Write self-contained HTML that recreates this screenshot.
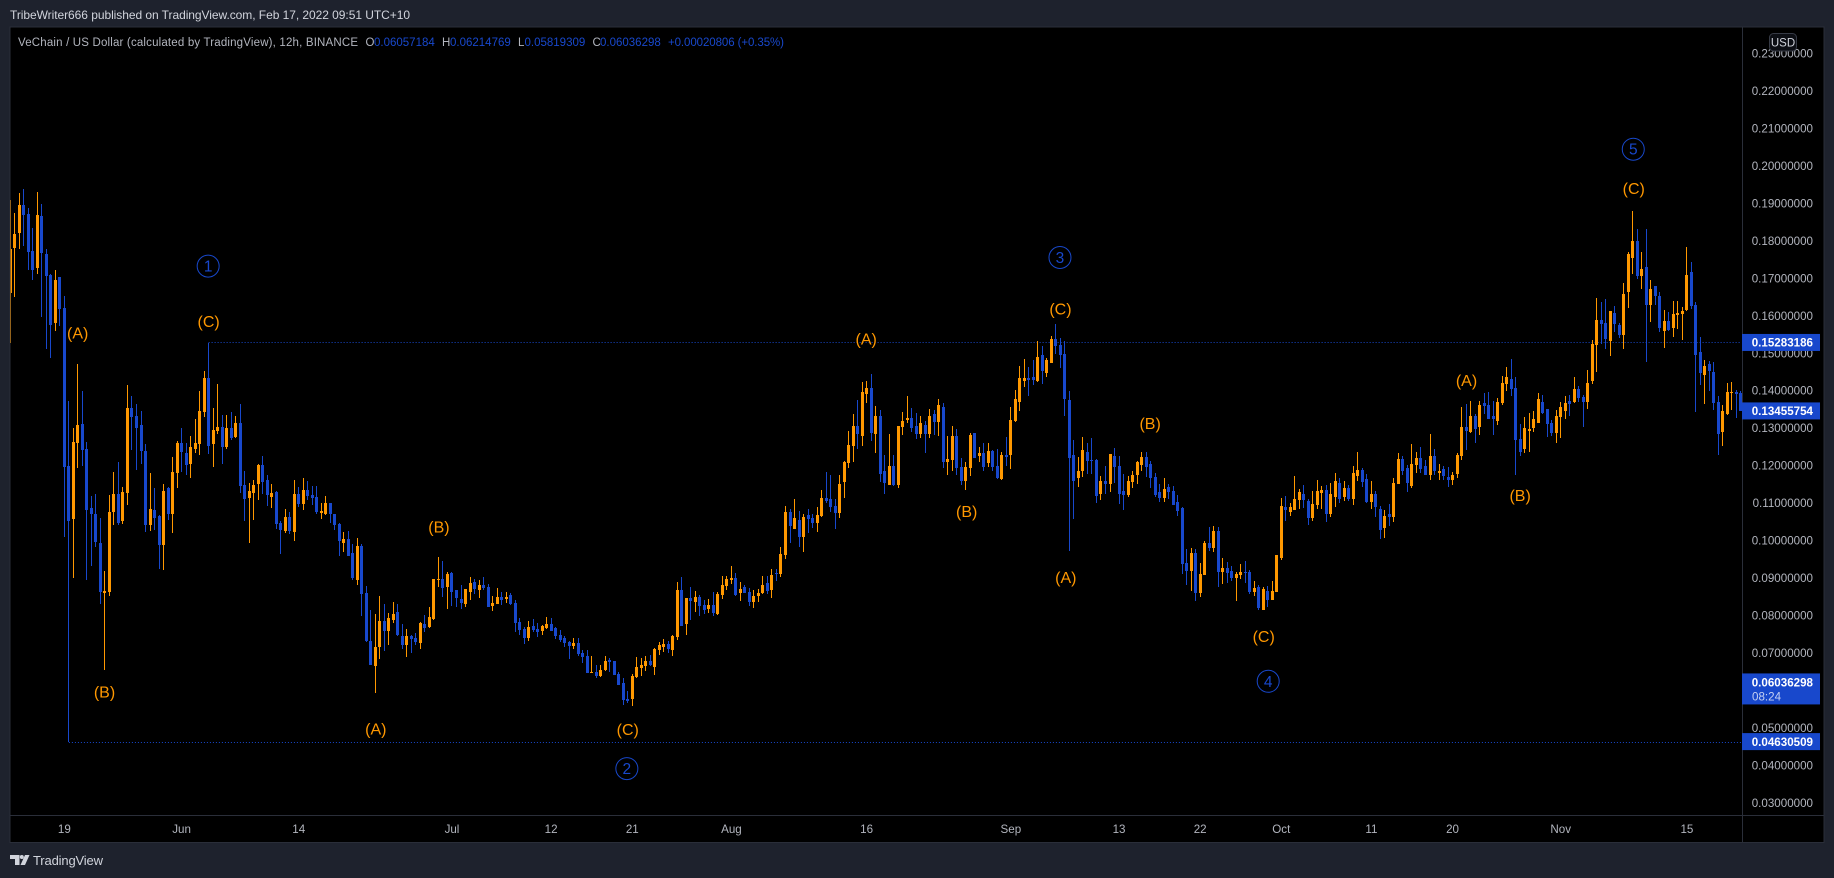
<!DOCTYPE html>
<html lang="en">
<head>
<meta charset="utf-8">
<title>VeChain / US Dollar chart</title>
<style>
html,body{margin:0;padding:0;background:#1e222d;width:1834px;height:878px;overflow:hidden}
svg{display:block;font-family:"Liberation Sans",sans-serif}
</style>
</head>
<body>
<svg id="chart" xmlns="http://www.w3.org/2000/svg" width="1834" height="878" viewBox="0 0 1834 878">
  <defs><clipPath id="plot-clip"><rect x="10.5" y="28" width="1731.5" height="787"/></clipPath></defs>
  <rect x="0" y="0" width="1834" height="878" fill="#1e222d"/>
  <rect x="10" y="27" width="1814" height="815.5" fill="#000" stroke="#2a2e39" stroke-width="1"/>
  <line x1="1742.5" y1="27" x2="1742.5" y2="842" stroke="#2a2e39"/>
  <line x1="10" y1="815.5" x2="1824" y2="815.5" stroke="#2a2e39"/>
  <text x="10" y="19" font-size="12" fill="#d1d4dc" textLength="400" lengthAdjust="spacing">TribeWriter666 published on TradingView.com, Feb 17, 2022 09:51 UTC+10</text>
  <text x="18" y="46" font-size="11.5" fill="#b2b5be" textLength="340" lengthAdjust="spacing">VeChain / US Dollar (calculated by TradingView), 12h, BINANCE</text>
  <g font-size="11.5">
    <text x="365.5" y="46" fill="#b2b5be">O</text>
    <text x="374" y="46" fill="#1848cc">0.06057184</text>
    <text x="442" y="46" fill="#b2b5be">H</text>
    <text x="450" y="46" fill="#1848cc">0.06214769</text>
    <text x="518" y="46" fill="#b2b5be">L</text>
    <text x="524.5" y="46" fill="#1848cc">0.05819309</text>
    <text x="592.5" y="46" fill="#b2b5be">C</text>
    <text x="600" y="46" fill="#1848cc">0.06036298</text>
    <text x="668" y="46" fill="#1848cc" textLength="116" lengthAdjust="spacing">+0.00020806 (+0.35%)</text>
  </g>
  <g id="price-lines"></g>
  <g id="candles" clip-path="url(#plot-clip)"></g>
  <g id="annotations"></g>
  <g id="price-axis"></g>
  <g id="time-axis"></g>
  <g id="price-labels"></g>
  <g>
    <rect x="1769.5" y="33.5" width="27" height="17.5" rx="4" fill="#0c0e14" stroke="#363a45"/>
    <text x="1783" y="46.5" font-size="11.5" fill="#d1d4dc" text-anchor="middle">USD</text>
  </g>
  <g fill="#d1d4dc">
    <path d="M10 855h9.5v10h-4.5v-6h-5z"/>
    <circle cx="21.8" cy="857" r="2"/>
    <path d="M25 855h4.5l-4.5 10h-4.5z"/>
    <text x="33" y="865" font-size="13" textLength="70" lengthAdjust="spacing">TradingView</text>
  </g>
</svg>
<script>
// All prices are in thousandths of a US dollar (153.2 = 0.1532 USD).
const opens=[
165.9,178.1,182.1,189.5,187.1,177.2,172.6,186.5,176.4,170.8,
158.1,170.2,161.9,119.9,105.7,126.1,131.0,124.4,108.6,107.0,
99.3,86.0,86.2,107.6,112.4,105.2,112.7,135.3,133.2,130.8,
123.9,104.1,108.1,106.5,98.8,114.0,107.0,118.0,126.0,123.3,
120.4,124.4,125.7,134.2,143.3,125.7,129.2,130.2,124.9,130.0,
127.6,131.3,114.8,111.3,112.7,115.1,120.1,116.1,111.6,112.9,
104.6,102.5,106.2,102.2,112.4,109.7,113.5,112.1,111.6,107.3,
107.0,110.0,107.0,104.4,99.3,100.4,96.6,89.4,98.5,86.0,
73.2,66.5,71.5,78.5,75.8,78.8,80.9,74.5,72.1,74.5,
74.0,72.6,77.7,76.9,79.0,89.4,89.7,87.6,91.3,86.8,
84.3,83.0,86.2,88.8,86.7,88.0,87.5,82.4,83.0,84.8,
84.3,85.4,83.2,78.2,76.3,73.9,77.1,76.3,75.8,76.6,
77.6,76.6,74.7,73.9,72.8,71.8,72.6,69.9,69.1,64.6,
64.8,63.8,65.4,68.0,67.8,64.3,61.9,57.6,57.6,63.5,
65.9,66.4,67.8,66.2,70.7,71.5,72.3,70.7,74.2,86.7,
77.6,84.6,83.5,84.8,82.7,81.6,82.7,80.3,85.4,87.8,
89.4,89.9,85.9,87.5,86.2,83.5,85.1,85.9,88.6,86.7,
91.2,91.0,96.0,107.5,103.0,105.4,100.9,106.7,105.9,104.6,
106.5,111.3,111.0,109.1,107.3,115.5,120.6,125.1,130.5,127.8,
139.0,140.6,128.3,133.2,118.5,114.7,119.8,114.7,130.2,132.1,
132.6,130.5,128.4,130.8,128.4,133.7,131.6,135.6,120.9,121.5,
127.9,119.6,115.9,119.3,128.7,122.5,123.3,120.7,123.9,119.9,
116.4,122.8,122.8,131.9,136.9,142.5,143.3,143.6,142.5,149.5,
144.7,147.3,153.8,152.2,149.7,137.5,122.8,116.6,118.5,123.6,
121.5,121.5,112.4,115.9,115.1,122.5,119.9,113.2,112.1,115.6,
117.5,120.1,122.3,120.4,116.9,112.9,111.3,114.3,113.2,110.2,
108.6,94.0,91.8,96.6,86.0,90.8,99.3,98.0,102.5,91.6,
92.6,91.8,90.0,90.8,91.6,91.6,86.2,87.6,81.4,86.5,
84.1,86.2,95.3,108.9,107.6,108.1,110.8,112.4,110.5,106.0,
109.4,112.6,113.4,107.0,111.6,115.3,111.6,114.0,111.0,117.2,
118.8,116.4,110.2,112.4,108.5,103.3,107.0,106.2,115.0,121.7,
119.3,114.5,120.1,122.0,119.8,117.4,122.5,118.0,119.0,116.9,
116.1,117.7,122.5,130.2,128.9,133.2,130.2,136.6,136.1,133.2,
131.8,136.6,141.7,143.0,140.6,127.0,124.4,129.2,130.0,131.3,
136.9,135.0,131.3,128.6,132.9,134.5,137.2,136.9,140.4,138.2,
136.9,142.5,152.1,158.8,158.0,153.2,160.7,157.5,154.8,166.3,
175.3,179.9,170.5,172.9,162.8,167.9,165.2,155.9,158.5,156.7,
160.1,160.4,161.5,171.6,162.8,150.2,144.1,147.0,144.9,136.9,
128.9,133.7,139.3,139.6,139.3];
const highs=[
190.8,187.3,192.6,193.7,188.6,183.5,192.9,189.9,177.7,171.1,
172.1,170.4,165.2,137.2,130.1,147.0,139.8,126.3,111.9,112.4,
105.9,91.8,112.0,118.2,120.8,114.3,141.4,138.5,136.4,134.5,
125.7,118.0,114.0,106.8,115.1,114.3,122.3,126.5,130.0,125.9,
127.8,132.4,139.8,145.2,152.8,135.3,141.7,133.4,133.4,134.2,
133.2,136.5,118.5,115.3,116.1,120.4,122.5,117.5,115.1,113.2,
105.2,108.4,107.6,116.1,114.3,116.7,115.9,114.5,114.5,110.0,
111.9,110.0,107.0,104.6,102.2,102.5,99.0,100.6,99.0,87.8,
81.4,80.4,85.2,83.0,80.6,83.6,83.0,77.7,76.4,74.8,
75.3,78.2,80.1,82.2,89.7,95.6,94.5,91.6,91.6,86.8,
88.0,87.0,90.2,89.6,89.4,90.2,88.3,85.1,87.2,86.2,
86.2,85.9,84.0,79.2,76.8,78.4,79.0,77.9,77.4,79.5,
79.2,76.8,76.0,74.4,73.1,73.9,73.9,70.7,70.7,69.1,
66.7,66.7,69.1,68.6,67.8,64.8,63.2,59.8,64.3,68.8,
68.6,69.1,69.4,71.2,72.8,73.6,73.1,74.7,88.8,90.2,
84.6,87.5,86.4,85.4,84.0,84.3,86.2,86.2,90.4,90.4,
93.1,91.2,88.8,88.0,87.2,86.7,87.0,90.4,90.4,92.3,
92.3,98.2,109.1,108.3,111.0,107.8,107.0,108.3,107.0,108.9,
113.4,118.2,117.4,111.0,117.4,121.1,129.1,133.7,137.4,142.2,
142.5,144.4,135.8,134.8,122.7,128.3,122.7,130.5,134.2,138.5,
135.3,134.0,133.2,131.9,135.1,134.8,137.7,136.7,127.9,130.5,
129.7,122.0,120.9,128.7,128.7,124.9,126.0,126.0,124.1,124.4,
123.6,127.6,135.6,140.1,146.5,148.4,146.3,148.1,153.2,151.9,
148.7,154.6,157.8,154.0,153.2,139.9,126.8,122.3,127.6,126.0,
127.3,121.7,117.2,119.9,123.1,124.7,122.5,117.7,117.2,118.5,
121.2,123.6,123.6,121.2,118.0,115.1,116.7,115.1,114.5,112.1,
108.9,97.7,98.0,97.7,94.0,99.8,103.6,103.8,103.6,95.3,
94.2,93.2,91.6,93.7,94.5,92.1,89.2,88.1,87.6,87.8,
89.2,96.1,111.3,111.8,110.0,117.2,113.7,114.8,111.0,113.2,
116.1,114.5,114.8,115.3,118.0,116.7,115.9,114.8,119.9,123.6,
119.3,117.7,115.9,113.2,109.2,108.1,109.7,116.6,123.3,122.5,
120.1,125.7,123.6,124.9,121.4,128.4,124.4,120.3,119.8,119.5,
118.2,123.3,135.6,136.4,137.2,133.7,137.2,139.3,139.6,137.2,
138.0,143.8,146.2,148.4,143.6,131.0,132.9,134.0,134.5,139.3,
138.8,135.0,132.1,134.8,136.9,138.5,138.8,143.6,141.2,138.8,
145.4,153.4,164.7,163.6,164.4,161.2,162.5,158.0,168.7,176.9,
187.9,183.1,176.9,183.1,169.5,167.9,166.3,161.5,160.9,163.9,
163.9,162.3,178.3,174.3,163.6,154.2,148.1,147.8,147.6,138.5,
136.1,142.0,142.2,140.1,139.8];
const lows=[
152.7,165.0,177.7,178.5,172.1,169.5,171.1,159.7,151.1,148.7,
155.9,157.3,101.0,46.3,90.1,119.4,119.9,89.4,93.2,98.3,
83.1,65.4,85.2,104.1,104.1,104.4,109.5,124.1,118.8,120.4,
102.2,102.5,102.8,92.4,92.1,105.4,102.0,114.0,118.3,117.5,
116.7,123.3,122.8,133.0,123.1,119.7,128.4,120.4,124.4,126.8,
127.3,112.7,105.2,99.3,105.4,110.8,112.4,109.2,108.6,103.0,
96.4,102.0,101.7,99.8,108.9,108.1,110.8,109.5,107.0,105.7,
106.8,104.6,102.8,95.8,96.9,95.8,89.4,88.1,79.8,72.9,
66.7,59.3,68.3,70.5,72.1,78.0,74.5,71.0,68.9,70.0,
72.1,71.0,75.6,76.6,78.8,87.6,84.9,81.7,82.5,82.2,
81.6,82.2,84.0,85.6,84.6,86.7,82.2,81.1,83.0,82.7,
83.2,82.7,75.5,74.7,72.3,73.1,75.5,74.2,74.7,76.3,
75.8,73.6,72.8,71.5,68.3,71.0,69.1,67.2,64.6,64.6,
63.2,63.5,65.1,64.8,64.0,61.4,56.0,56.5,55.7,63.2,
63.8,65.1,66.4,64.0,69.4,70.2,69.9,69.1,73.4,77.1,
74.7,78.7,80.8,79.8,80.3,80.6,79.8,80.0,84.3,86.7,
88.3,85.1,83.8,85.9,82.4,81.9,83.5,85.6,85.6,84.6,
89.1,90.2,95.0,99.3,103.0,98.2,96.9,101.9,103.3,102.2,
106.2,109.9,107.5,103.0,105.9,111.3,119.3,120.9,124.3,125.1,
136.6,126.5,123.3,115.5,112.3,114.7,114.5,113.9,128.1,131.3,
128.9,127.0,127.3,123.3,127.3,128.1,127.9,119.3,117.5,118.5,
117.5,114.8,113.4,117.2,122.0,120.9,118.5,119.6,118.5,116.4,
116.1,119.9,119.1,131.6,134.5,140.9,138.5,141.5,142.3,141.7,
143.6,147.3,149.7,146.0,133.2,97.2,105.7,114.3,116.9,117.7,
117.7,110.0,110.8,112.4,112.9,115.3,109.7,108.1,111.6,114.0,
115.1,118.5,116.9,114.0,111.6,110.2,110.2,111.0,109.4,106.5,
91.0,88.1,86.5,83.8,84.9,90.8,97.2,96.9,87.6,88.4,
88.6,89.2,83.8,89.7,88.6,85.7,85.2,81.4,81.4,82.2,
84.1,86.2,94.8,105.2,106.5,108.1,108.4,108.6,104.1,105.2,
108.4,108.4,104.9,106.2,108.9,110.0,110.5,110.5,109.4,115.9,
114.3,110.0,108.4,106.2,100.4,100.6,103.8,104.9,115.0,117.4,
112.9,113.9,118.0,118.0,117.4,116.1,117.4,116.1,116.1,114.2,
114.7,116.6,121.4,124.1,128.6,126.0,128.1,133.7,132.4,128.1,
130.8,136.1,139.8,138.5,117.4,122.5,123.3,123.6,128.9,131.3,
133.7,127.6,127.8,126.0,127.3,132.4,133.2,136.6,136.9,130.2,
135.0,141.7,144.9,152.4,151.0,149.2,155.6,154.0,151.0,162.0,
171.1,169.7,167.1,147.6,158.3,162.8,155.6,151.3,155.9,154.2,
156.4,153.4,161.2,161.7,134.2,141.4,136.4,139.8,134.8,122.8,
125.2,133.4,134.8,132.6,134.5];
const closes=[
177.9,181.7,189.5,186.8,177.0,172.1,186.8,176.8,170.6,157.5,
169.6,161.7,119.7,105.3,126.3,130.8,124.1,108.1,107.0,99.6,
86.2,86.5,107.6,112.4,104.6,112.9,135.3,133.0,130.0,123.9,
104.1,108.4,106.0,98.8,113.2,107.0,118.3,126.0,123.6,120.1,
124.9,126.0,134.5,143.3,125.2,129.4,130.2,125.0,130.0,127.3,
131.3,114.5,111.1,113.2,114.8,120.1,115.6,112.1,112.7,104.4,
102.8,106.2,102.5,112.4,109.7,113.5,111.9,111.3,107.5,107.8,
110.0,107.0,104.1,99.8,100.4,95.8,90.0,98.5,85.7,73.1,
66.7,71.5,78.5,75.8,79.3,80.4,74.8,72.1,74.5,73.7,
72.9,78.0,76.6,79.6,89.7,89.7,87.3,91.0,86.2,84.6,
83.2,87.0,88.6,87.0,88.0,87.2,82.2,83.2,84.8,84.0,
84.8,83.0,77.9,76.0,73.9,76.8,76.0,75.5,77.1,77.6,
75.8,74.4,73.4,72.6,71.8,72.6,69.6,68.8,64.6,64.8,
63.8,65.4,67.8,67.5,64.0,61.4,57.4,57.1,63.8,66.2,
66.7,67.8,66.7,71.0,72.0,72.3,71.0,74.4,86.7,77.1,
84.6,83.8,84.8,82.4,81.4,82.7,80.6,85.6,88.0,89.6,
89.9,85.4,87.0,85.9,83.5,85.1,85.9,88.0,86.4,90.7,
91.0,96.3,107.5,103.8,105.9,100.9,106.2,105.7,104.6,106.7,
111.3,110.5,108.9,107.3,115.0,120.9,125.4,130.5,128.3,139.6,
140.6,128.6,133.2,117.7,115.3,119.8,114.7,130.5,131.8,132.6,
130.0,128.3,131.3,128.4,133.2,131.6,136.1,120.9,121.7,127.9,
119.3,115.9,119.6,128.1,122.0,123.3,119.6,123.9,119.6,116.6,
122.8,122.3,132.1,137.7,143.3,143.3,142.8,142.8,149.0,145.2,
148.1,153.8,151.9,149.5,137.7,122.0,115.9,118.5,124.1,121.2,
121.2,111.8,115.9,115.1,123.1,119.6,112.4,112.1,115.9,117.5,
120.9,122.3,119.6,116.6,112.1,111.3,113.7,112.9,109.4,107.8,
93.7,91.8,96.6,86.0,91.0,99.3,98.0,102.5,91.6,92.6,
91.3,90.0,91.0,91.6,91.3,86.2,87.3,82.0,87.0,84.1,
86.5,96.1,109.2,108.1,108.9,111.0,112.9,110.8,106.0,109.7,
113.2,113.4,107.0,112.4,115.9,111.0,114.0,111.0,118.0,118.8,
115.6,110.2,112.4,108.9,102.8,106.5,106.3,115.3,121.7,118.5,
115.3,120.3,122.0,119.0,117.4,122.5,118.5,118.5,117.1,116.1,
117.4,122.8,130.2,129.2,133.2,129.7,136.1,135.8,132.4,132.4,
136.9,142.0,143.6,140.4,126.8,123.6,130.0,129.7,132.4,137.7,
133.9,131.0,128.6,133.2,135.6,136.6,136.4,140.4,138.0,136.9,
142.0,152.4,158.8,157.7,153.7,161.2,157.7,154.8,165.7,176.4,
179.9,170.5,172.4,162.8,167.1,165.2,156.7,158.5,156.1,160.4,
160.7,161.2,170.8,162.5,149.4,144.6,146.5,145.2,136.6,128.4,
134.5,139.6,139.6,139.0,134.56];

const priceTickLabels=['0.23000000','0.22000000','0.21000000','0.20000000','0.19000000','0.18000000','0.17000000','0.16000000','0.15000000','0.14000000','0.13000000','0.12000000','0.11000000','0.10000000','0.09000000','0.08000000','0.07000000','0.05000000','0.04000000','0.03000000'];
const timeTickLabels=['19','Jun','14','Jul','12','21','Aug','16','Sep','13','22','Oct','11','20','Nov','15'];
const timeTickBars=[12,38,64,98,120,138,160,190,222,246,264,282,302,320,344,372];

const priceLineValues=[152.83186,46.30509];
const priceLineStartBars=[44,13];
const axisLabelTexts=['0.15283186','0.13455754','0.06036298','0.04630509'];

const waveTexts=['(A)','(C)','(B)','(A)','(B)','(C)','(A)','(B)','(C)','(A)','(B)','(C)','(A)','(B)','(C)'];
const waveBars=[14.95,44,20.9,81.1,95.1,137,189.9,212.2,233,234.2,252.9,278.1,323.1,335,360.2];
const wavePrices=[155.3,158.4,59.6,49.7,103.6,49.6,153.7,107.7,161.8,90.1,131.2,74.3,142.7,112,193.9];
const circleDigits=['1','2','3','4','5'];
const circleBars=[43.9,136.8,232.9,279.1,360.1];
const circlePrices=[173.2,39.1,175.5,62.4,204.4];

const UP='#ff9800', DOWN='#1848cc', NS='http://www.w3.org/2000/svg';
function xOf(bar){return 10.3+4.507*bar;}
function yOf(price){return 53.3+(230-price)*3.747;}
function mk(parent,tag,attrs,text){
  const el=document.createElementNS(NS,tag);
  for(const k in attrs) el.setAttribute(k,attrs[k]);
  if(text!==undefined) el.textContent=text;
  parent.appendChild(el);
  return el;
}

const candleGroup=document.getElementById('candles');
opens.forEach(function(o,i){
  const c=closes[i], col=c>=o?UP:DOWN, cx=Math.floor(xOf(i));
  const hy=Math.round(yOf(highs[i])), ly=Math.round(yOf(lows[i]));
  const by=Math.round(yOf(Math.max(o,c))), bb=Math.round(yOf(Math.min(o,c)));
  const wick=mk(candleGroup,'rect',{x:cx,y:hy,width:1,height:Math.max(1,ly-hy),fill:col});
  
  
  const body=mk(candleGroup,'rect',{x:cx-1,y:by,width:3,height:Math.max(1,bb-by),fill:col});
  
  
});

const lineGroup=document.getElementById('price-lines');
priceLineValues.forEach(function(v,i){
  const y=Math.round(yOf(v))+0.5;
  const ln=mk(lineGroup,'line',{x1:xOf(priceLineStartBars[i]),y1:y,x2:1741,y2:y,stroke:'#1848cc','stroke-width':1,'stroke-dasharray':'1 2'});
  
  
});

const annGroup=document.getElementById('annotations');
waveTexts.forEach(function(t,i){
  const el=mk(annGroup,'text',{x:xOf(waveBars[i]),y:yOf(wavePrices[i])+5.5,'font-size':16,fill:'#ff9800','text-anchor':'middle'},t);
  
  
});
circleDigits.forEach(function(d,i){
  const cx=xOf(circleBars[i]), cy=yOf(circlePrices[i]);
  const ring=mk(annGroup,'circle',{cx:cx,cy:cy,r:11,fill:'none',stroke:'#1848cc','stroke-width':1});
  
  
  const el=mk(annGroup,'text',{x:cx,y:cy+5.5,'font-size':15.5,fill:'#1848cc','text-anchor':'middle'},d);
  
  
});

const priceAxis=document.getElementById('price-axis');
priceTickLabels.forEach(function(t){
  const el=mk(priceAxis,'text',{x:1813,y:yOf(parseFloat(t)*1000)+4.2,'font-size':11.6,fill:'#b2b5be','text-anchor':'end'},t);
  
  
});

const timeAxis=document.getElementById('time-axis');
timeTickLabels.forEach(function(t,i){
  const el=mk(timeAxis,'text',{x:xOf(timeTickBars[i]),y:833,'font-size':11.6,fill:'#b2b5be','text-anchor':'middle'},t);
  
  
});

const labelGroup=document.getElementById('price-labels');
axisLabelTexts.forEach(function(t,i){
  const two=(t==='0.06036298');
  const y=yOf(parseFloat(t)*1000);
  const top=two?y-15.5:y-8.5, h=two?31:17;
  const box=mk(labelGroup,'rect',{x:1742,y:top,width:78,height:h,fill:'#1848cc'});
  
  
  const el=mk(labelGroup,'text',{x:1813,y:two?top+13:y+4.2,'font-size':11.6,'font-weight':'bold',fill:'#ffffff','text-anchor':'end'},t);
  
  
  if(two){
    const cd=mk(labelGroup,'text',{x:1752,y:top+27,'font-size':11.6,fill:'#c5d0f2'},'08:24');
    
    
  }
});
</script>
</body>
</html>
